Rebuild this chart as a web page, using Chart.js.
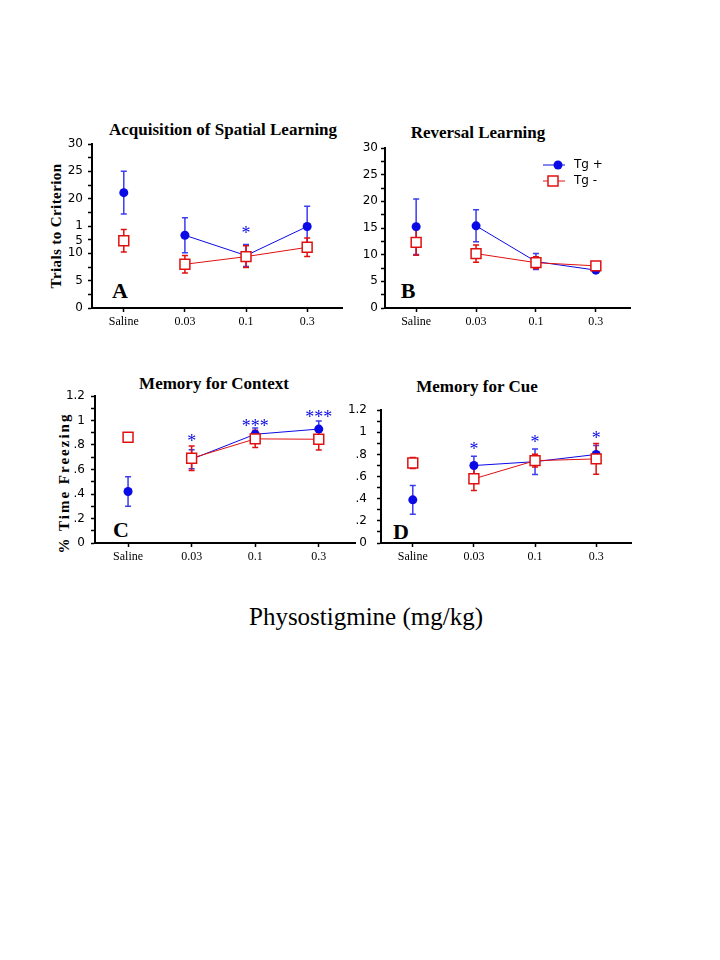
<!DOCTYPE html>
<html>
<head>
<meta charset="utf-8">
<script src="https://cdn.jsdelivr.net/npm/chart.js@4"></script>
<style>
  body { margin: 0; background: #fff; width: 720px; height: 960px; position: relative; overflow: hidden; }
  canvas { position: absolute; }
  .t { position: absolute; font-family: "Liberation Serif", "Times New Roman", serif; font-weight: bold;
       white-space: nowrap; transform: translate(-50%, -50%); color: #000; }
  .yl { transform: translate(-50%, -50%) rotate(-90deg); }
</style>
</head>
<body>
<div class="t" style="left:223px;top:130px;font-size:17px">Acquisition of Spatial Learning</div>
<div class="t" style="left:478px;top:133px;font-size:17px">Reversal Learning</div>
<div class="t" style="left:214px;top:384px;font-size:17px">Memory for Context</div>
<div class="t" style="left:477px;top:387px;font-size:17px">Memory for Cue</div>

<div class="t yl" style="left:56px;top:226px;font-size:15px;letter-spacing:0.4px">Trials to Criterion</div>
<div class="t yl" style="left:64px;top:483px;font-size:15px;letter-spacing:2px">% Time Freezing</div>

<div class="t" style="left:120px;top:291px;font-size:22px">A</div>
<div class="t" style="left:408px;top:291px;font-size:22px">B</div>
<div class="t" style="left:121px;top:530px;font-size:22px">C</div>
<div class="t" style="left:401px;top:532px;font-size:22px">D</div>

<div class="t" style="left:366px;top:617px;font-size:25px;font-weight:normal">Physostigmine (mg/kg)</div>

<canvas id="chartA"></canvas>
<canvas id="chartB"></canvas>
<canvas id="chartC"></canvas>
<canvas id="chartD"></canvas>

<script>
const doses = ["Saline", "0.03", "0.1", "0.3"];

// A - acquisition (trials to criterion)
const tgPlusA    = [21.1, 13.3, 9.6, 14.9];
const tgPlusErrA = [3.9, 3.2, 2.0, 3.7];
const tgMinusA    = [12.3, 8.0, 9.4, 11.1];
const tgMinusErrA = [2.05, 1.6, 2.0, 1.7];
const starsA = [null, null, 14.3, null];
const starTextA = ["", "", "*", ""];

// B - reversal
const tgPlusB    = [15.25, 15.4, 8.7, 7.1];
const tgPlusErrB = [5.2, 3.0, 1.5, 0.3];
const tgMinusB    = [12.3, 10.2, 8.5, 7.9];
const tgMinusErrB = [2.4, 1.6, 1.1, 0.4];

// C - context freezing
const tgPlusC    = [0.42, 0.684, 0.888, 0.93];
const tgPlusErrC = [0.12, 0.078, 0.05, 0.065];
const tgMinusC    = [0.863, 0.692, 0.85, 0.847];
const tgMinusErrC = [0.035, 0.10, 0.07, 0.088];
const starsC = [null, 0.855, 0.98, 1.05];
const starTextC = ["", "*", "***", "***"];

// D - cue freezing
const tgPlusD    = [0.39, 0.70, 0.735, 0.80];
const tgPlusErrD = [0.13, 0.083, 0.115, 0.08];
const tgMinusD    = [0.723, 0.58, 0.744, 0.76];
const tgMinusErrD = [0.05, 0.105, 0.058, 0.138];
const starsD = [null, 0.87, 0.94, 0.97];
const starTextD = ["", "*", "*", "*"];

// y ticks
const trialTicks   = [0, 2.5, 5, 7.5, 10, 12.5, 15, 17.5, 20, 22.5, 25, 27.5, 30];
const trialLabels  = ["0", "", "5", "", "10", "", "15", "", "20", "", "25", "", "30"];
// panel A has a broken "15" label: "1" on the tick and a stray "5" below it
const trialTicksA  = [0, 2.5, 5, 7.5, 10, 12.2, 12.5, 15, 17.5, 20, 22.5, 25, 27.5, 30];
const trialLabelsA = ["0", "", "5", "", "10", "5", "", "1", "", "20", "", "25", "", "30"];
const freezeTicks  = [0, 0.1, 0.2, 0.3, 0.4, 0.5, 0.6, 0.7, 0.8, 0.9, 1.0, 1.1, 1.2];
const freezeLabels = ["0", "", ".2", "", ".4", "", ".6", "", ".8", "", "1", "", "1.2"];

const BLUE = "#0a0ae6";
const BLUE_ERR = "#3c3cf0";
const RED = "#e01010";

function errorBarPlugin(series, stars, starText, legend) {
  return {
    id: "errbars",
    beforeDatasetsDraw(chart) {
      const ctx = chart.ctx, xs = chart.scales.x, ys = chart.scales.y;
      series.forEach(s => {
        ctx.save();
        ctx.strokeStyle = s.color;
        ctx.lineWidth = 1.5;
        s.values.forEach((v, i) => {
          const px = xs.getPixelForValue(i);
          const top = ys.getPixelForValue(v + s.err[i]);
          const bot = ys.getPixelForValue(v - s.err[i]);
          ctx.beginPath();
          ctx.moveTo(px, top); ctx.lineTo(px, bot);
          ctx.moveTo(px - 3, top); ctx.lineTo(px + 3, top);
          ctx.moveTo(px - 3, bot); ctx.lineTo(px + 3, bot);
          ctx.stroke();
        });
        ctx.restore();
      });
    },
    afterDatasetsDraw(chart) {
      const ctx = chart.ctx, xs = chart.scales.x, ys = chart.scales.y;
      ctx.save();
      if (stars) {
        ctx.fillStyle = BLUE;
        ctx.font = "18px 'Liberation Serif', serif";
        ctx.textAlign = "center";
        ctx.textBaseline = "middle";
        stars.forEach((v, i) => {
          if (v == null) return;
          ctx.fillText(starText[i], xs.getPixelForValue(i), ys.getPixelForValue(v) + 4);
        });
      }
      if (legend) {
        // legend box in panel B, placed relative to the plot area
        const a = chart.chartArea;
        const lx = a.left + 158, ly1 = a.top + 17, ly2 = a.top + 33;
        ctx.lineWidth = 1;
        ctx.strokeStyle = BLUE;
        ctx.beginPath(); ctx.moveTo(lx, ly1); ctx.lineTo(lx + 22, ly1); ctx.stroke();
        ctx.fillStyle = BLUE;
        ctx.beginPath(); ctx.arc(lx + 15, ly1, 4.5, 0, Math.PI * 2); ctx.fill();
        ctx.strokeStyle = RED;
        ctx.beginPath(); ctx.moveTo(lx, ly2); ctx.lineTo(lx + 22, ly2); ctx.stroke();
        ctx.fillStyle = "#fff";
        ctx.lineWidth = 1.5;
        ctx.fillRect(lx + 5, ly2 - 5, 10, 10);
        ctx.strokeRect(lx + 5, ly2 - 5, 10, 10);
        ctx.fillStyle = "#000";
        ctx.font = "12px 'DejaVu Sans', sans-serif";
        ctx.textAlign = "left";
        ctx.textBaseline = "middle";
        ctx.fillText("Tg +", lx + 31, ly1);
        ctx.fillText("Tg -", lx + 31, ly2);
      }
      ctx.restore();
    }
  };
}

function lineSet(label, vals, color, filled) {
  return {
    label: label,
    data: vals.map((v, i) => ({ x: i, y: v })),
    borderColor: color,
    borderWidth: 1,
    pointStyle: filled ? "circle" : "rect",
    pointRadius: filled ? 4.5 : 7,
    pointBackgroundColor: filled ? color : "#fff",
    pointBorderColor: color,
    pointBorderWidth: filled ? 0 : 1.5,
    segment: { borderColor: c => c.p0DataIndex === 0 ? "rgba(0,0,0,0)" : color },
    tension: 0
  };
}

function makePanel(id, box, plus, plusErr, minus, minusErr, yMax, yTicks, yLabels, stars, starText, legend, labelPad) {
  const cv = document.getElementById(id);
  const padL = 50, padT = 16, padR = 16, padB = 32;
  cv.width = box.r - box.l + padL + padR;
  cv.height = box.b - box.t + padT + padB;
  cv.style.left = (box.l - padL) + "px";
  cv.style.top = (box.t - padT) + "px";

  const series = [
    { values: plus, err: plusErr, color: BLUE_ERR },
    { values: minus, err: minusErr, color: RED }
  ];

  new Chart(cv, {
    type: "line",
    data: {
      datasets: [
        lineSet("Tg -", minus, RED, false),
        lineSet("Tg +", plus, BLUE, true)
      ]
    },
    options: {
      responsive: false,
      animation: false,
      layout: { autoPadding: false, padding: { top: padT, right: padR, left: 0, bottom: 0 } },
      plugins: { legend: { display: false }, tooltip: { enabled: false } },
      scales: {
        x: {
          type: "linear",
          min: -0.52, max: 3.57,
          afterBuildTicks: s => { s.ticks = doses.map((d, i) => ({ value: i })); },
          afterFit: s => { s.height = padB; },
          ticks: {
            callback: (v, i) => doses[i],
            font: { family: "'Liberation Serif', serif", size: 12 },
            color: "#000", padding: 3, maxRotation: 0, autoSkip: false
          },
          grid: { drawOnChartArea: false, tickLength: 4, tickColor: "#000", tickWidth: 1.5 },
          border: { color: "#000", width: 2 }
        },
        y: {
          min: 0, max: yMax,
          afterBuildTicks: s => { s.ticks = yTicks.map(v => ({ value: v })); },
          afterFit: s => { s.width = padL; },
          ticks: {
            callback: (v, i) => yLabels[i],
            font: { family: "'DejaVu Sans', sans-serif", size: 12 },
            color: "#000", padding: labelPad, autoSkip: false
          },
          grid: {
            drawOnChartArea: false, tickLength: 4, tickWidth: 1.5,
            tickColor: c => (c.tick && c.tick.value === 12.2) ? "rgba(0,0,0,0)" : "#000"
          },
          border: { color: "#000", width: 2 }
        }
      }
    },
    plugins: [errorBarPlugin(series, stars, starText, legend)]
  });
}

makePanel("chartA", { l: 92, t: 144, r: 342, b: 308 }, tgPlusA, tgPlusErrA, tgMinusA, tgMinusErrA,
  30, trialTicksA, trialLabelsA, starsA, starTextA, false, 5);
makePanel("chartB", { l: 385, t: 148, r: 630, b: 308 }, tgPlusB, tgPlusErrB, tgMinusB, tgMinusErrB,
  30, trialTicks, trialLabels, null, null, true, 3);
makePanel("chartC", { l: 95, t: 396, r: 355, b: 543 }, tgPlusC, tgPlusErrC, tgMinusC, tgMinusErrC,
  1.2, freezeTicks, freezeLabels, starsC, starTextC, false, 6);
makePanel("chartD", { l: 381, t: 409, r: 631, b: 543 }, tgPlusD, tgPlusErrD, tgMinusD, tgMinusErrD,
  1.2, freezeTicks, freezeLabels, starsD, starTextD, false, 10);
</script>
</body>
</html>
